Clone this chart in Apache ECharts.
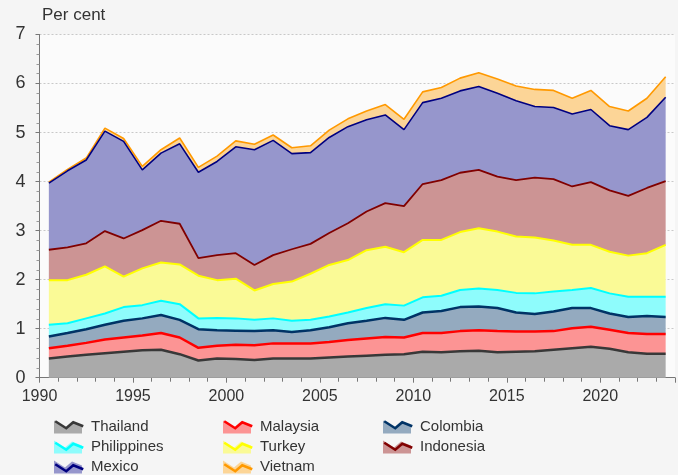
<!DOCTYPE html>
<html>
<head>
<meta charset="utf-8">
<script src="https://cdn.jsdelivr.net/npm/echarts@6/dist/echarts.min.js"></script>
<style>
html,body{margin:0;padding:0;background:#f5f5f5;}
#chart{width:678px;height:475px;}
</style>
</head>
<body>
<div id="chart"></div>
<script>
// years (each value sits in the middle of its year)
var years = ['1990','1991','1992','1993','1994','1995','1996','1997','1998','1999','2000','2001','2002','2003','2004','2005','2006','2007','2008','2009','2010','2011','2012','2013','2014','2015','2016','2017','2018','2019','2020','2021','2022','2023'];

// per cent, each country's own share (stacked in the chart)
var thailand    = [0.39,0.43,0.47,0.50,0.53,0.56,0.57,0.48,0.35,0.39,0.38,0.36,0.39,0.39,0.39,0.41,0.43,0.45,0.47,0.48,0.53,0.52,0.54,0.55,0.52,0.53,0.54,0.57,0.60,0.63,0.59,0.52,0.49,0.49];
var malaysia    = [0.21,0.22,0.24,0.28,0.29,0.30,0.34,0.34,0.26,0.26,0.29,0.30,0.31,0.31,0.31,0.32,0.34,0.35,0.36,0.34,0.38,0.39,0.41,0.42,0.43,0.41,0.40,0.38,0.41,0.41,0.39,0.39,0.40,0.40];
var colombia    = [0.24,0.26,0.28,0.30,0.34,0.35,0.37,0.36,0.38,0.32,0.29,0.29,0.27,0.23,0.27,0.30,0.34,0.36,0.39,0.36,0.42,0.45,0.49,0.48,0.47,0.39,0.36,0.40,0.41,0.38,0.33,0.33,0.37,0.35];
var philippines = [0.24,0.20,0.22,0.23,0.28,0.27,0.29,0.32,0.22,0.25,0.25,0.23,0.24,0.23,0.21,0.22,0.22,0.26,0.28,0.29,0.31,0.31,0.35,0.37,0.37,0.40,0.42,0.41,0.37,0.41,0.41,0.41,0.39,0.41];
var turkey      = [0.91,0.88,0.89,0.96,0.62,0.75,0.78,0.81,0.87,0.77,0.81,0.60,0.70,0.80,0.94,1.05,1.07,1.18,1.17,1.09,1.17,1.14,1.18,1.23,1.19,1.15,1.14,1.04,0.92,0.88,0.85,0.84,0.89,1.06];
var indonesia   = [0.62,0.67,0.64,0.72,0.78,0.78,0.85,0.83,0.36,0.51,0.52,0.52,0.59,0.66,0.61,0.65,0.75,0.79,0.89,0.94,1.14,1.22,1.21,1.19,1.12,1.15,1.22,1.25,1.19,1.28,1.25,1.22,1.33,1.30];
var mexico      = [1.36,1.56,1.70,2.04,1.98,1.23,1.38,1.63,1.75,1.91,2.17,2.35,2.34,1.95,1.86,1.95,1.97,1.87,1.80,1.56,1.66,1.67,1.67,1.70,1.70,1.62,1.45,1.46,1.48,1.48,1.32,1.35,1.44,1.71];
var vietnam     = [0.02,0.03,0.04,0.06,0.06,0.07,0.07,0.12,0.10,0.11,0.12,0.11,0.11,0.12,0.14,0.15,0.16,0.18,0.21,0.21,0.22,0.22,0.26,0.28,0.29,0.30,0.35,0.35,0.32,0.39,0.39,0.38,0.39,0.42];

var names = ['Thailand','Malaysia','Colombia','Philippines','Turkey','Indonesia','Mexico','Vietnam'];
var values = [thailand,malaysia,colombia,philippines,turkey,indonesia,mexico,vietnam];
var lineColors = ['#383838','#ff0000','#003366','#00ffff','#ffff00','#800000','#000080','#ff9900'];
var fillColors = ['#aaaaaa','#fc9494','#94aabf','#8efcfc','#fafa96','#cc9494','#9696cc','#fcd597'];
var lineWidths = [2.5,2.5,2.5,2,2,1.8,1.6,1.6];

var font = '"Liberation Sans",Arial,sans-serif';

var areaIcon = 'path://M0,1L11,8L18,2L28,6L28,14L0,14ZM32,0M32,14';
var lineIcon = 'path://M0,1L11,8L18,2L28,6M0,14M32,0M32,14';

var series = [];
for (var i = 0; i < names.length; i++) {
	series.push({
		name: names[i],
		type: 'line',
		xAxisIndex: 0,
		stack: 'total',
		symbol: 'none',
		z: 20 - i,
		color: lineColors[i],
		lineStyle: { color: lineColors[i], width: lineWidths[i] },
		areaStyle: { color: fillColors[i], opacity: 1 },
		data: values[i]
	});
}

// legend in three columns; each column drawn twice: filled area icon, then zigzag line on top
var columns = [[0,3,6],[1,4,7],[2,5]];
var colLeft = [54,223,383];
var legends = [];
for (var c = 0; c < columns.length; c++) {
	var areaData = [], lineData = [];
	for (var k = 0; k < columns[c].length; k++) {
		var idx = columns[c][k];
		areaData.push({ name: names[idx], icon: areaIcon, itemStyle: { color: fillColors[idx], borderWidth: 0 } });
		lineData.push({ name: names[idx], icon: lineIcon, itemStyle: { color: 'transparent', borderColor: lineColors[idx], borderWidth: 2.5 } });
	}
	var base = {
		orient: 'vertical',
		left: colLeft[c],
		top: 419,
		height: 80,
		itemWidth: 32,
		itemHeight: 14,
		itemGap: 5,
		padding: 0,
		selectedMode: false
	};
	legends.push(Object.assign({}, base, { data: areaData, textStyle: { fontFamily: font, fontSize: 15, color: '#333' } }));
	legends.push(Object.assign({}, base, { data: lineData, textStyle: { fontFamily: font, fontSize: 15, color: 'transparent' } }));
}

var option = {
	backgroundColor: '#f5f5f5',
	animation: false,
	title: {
		text: 'Per cent',
		left: 42,
		top: 7,
		padding: 0,
		textStyle: { fontFamily: font, fontSize: 17, fontWeight: 'normal', color: '#333' }
	},
	legend: legends,
	grid: {
		left: 39.5,
		right: -3,
		top: 34.5,
		bottom: 97.3,
		show: true,
		backgroundColor: '#fbfbfb',
		borderWidth: 0
	},
	xAxis: [
		{
			// one band per year, carries the data
			type: 'category',
			data: years,
			boundaryGap: true,
			show: false
		},
		{
			// year scale for labels and ticks
			type: 'value',
			position: 'bottom',
			min: 1990,
			max: 2024,
			interval: 5,
			axisLine: { lineStyle: { color: '#777', width: 1 } },
			axisTick: { show: true, length: 5, lineStyle: { color: '#777' } },
			minorTick: { show: true, splitNumber: 5, length: 4, lineStyle: { color: '#777' } },
			splitLine: { show: false },
			axisLabel: {
				margin: 11,
				fontFamily: font,
				fontSize: 16,
				color: '#333',
				formatter: function (v) { return v % 5 === 0 ? String(v) : ''; }
			}
		}
	],
	yAxis: {
		type: 'value',
		min: 0,
		max: 7,
		interval: 1,
		axisLine: { show: true, lineStyle: { color: '#777', width: 1 } },
		axisTick: { show: true, length: 4, lineStyle: { color: '#777' } },
		minorTick: { show: true, splitNumber: 5, length: 3, lineStyle: { color: '#999' } },
		splitLine: { show: true, lineStyle: { color: '#c8c8c8', type: [2, 2], width: 1 } },
		axisLabel: { margin: 14, fontFamily: font, fontSize: 18, color: '#333' }
	},
	series: series
};

var myChart = echarts.init(document.getElementById('chart'));
myChart.setOption(option);
</script>
</body>
</html>
